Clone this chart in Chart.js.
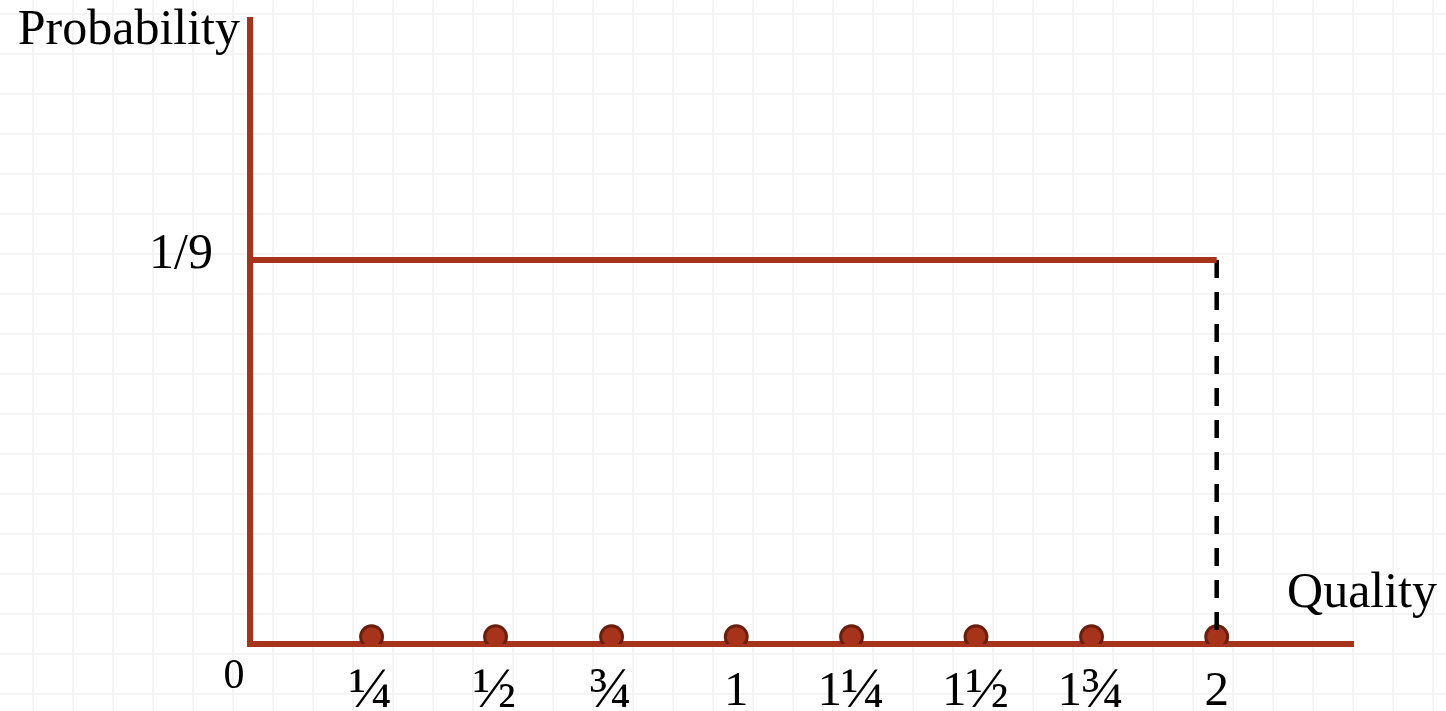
<!DOCTYPE html>
<html>
<head>
<meta charset="utf-8">
<script src="https://cdn.jsdelivr.net/npm/chart.js@4.4.1/dist/chart.umd.min.js"></script>
<style>
    html, body { margin: 0; padding: 0; }
    body {
        width: 1446px; height: 711px; overflow: hidden;
        background-color: #fff;
        background-image:
            linear-gradient(to right, #f4f4f4 2px, transparent 2px),
            linear-gradient(to bottom, #f4f4f4 2px, transparent 2px);
        background-size: 40px 40px;
        background-position: 32px 13px;
    }
    canvas { display: block; }
</style>
</head>
<body>
<canvas id="chart" width="1446" height="711"></canvas>
<script>
// --- Data ---
const qualityLabels = ['¼', '½', '¾', '1', '1¼', '1½', '1¾', '2'];
const qualityX = [0.2515, 0.508, 0.748, 1.006, 1.2445, 1.502, 1.741, 2.0];
const dotY = [0.0021, 0.0021, 0.0021, 0.0021, 0.0021, 0.0021, 0.0021, 0.0021];
const densityX = [0, 2];
const densityY = [1 / 9, 1 / 9];
const dropX = [2, 2];
const dropY = [1 / 9, 0];
const yTickValue = 1 / 9;
const yTickLabel = '1/9';
const xMax = 2.282;
const yMax = 0.1806;

const RED = '#a6331a';
const DOT_EDGE = '#6a1f0d';
const FONT = '"Liberation Serif", "Times New Roman", serif';
const FRACTIONS = '¼½¾';

const toPts = (xs, ys) => xs.map((x, i) => ({ x: x, y: ys[i] }));

// mixed numbers: whole part at normal size, the fraction glyph a bit larger
function drawMixed(ctx, label, cx, baseline) {
    const last = label.slice(-1);
    const hasFrac = FRACTIONS.includes(last);
    const whole = hasFrac ? label.slice(0, -1) : label;
    const frac = hasFrac ? last : '';

    ctx.font = `49px ${FONT}`;
    const wW = ctx.measureText(whole).width;
    ctx.font = `58px ${FONT}`;
    const wF = frac ? ctx.measureText(frac).width : 0;

    let left = cx - (wW + wF) / 2;
    ctx.textAlign = 'left';
    if (whole) {
        ctx.font = `49px ${FONT}`;
        ctx.fillText(whole, left, baseline);
    }
    if (frac) {
        ctx.font = `58px ${FONT}`;
        ctx.fillText(frac, left + wW - 1, baseline + 2);
    }
}

// labels drawn next to the axes, positioned from the scales
const axisText = {
    id: 'axisText',
    afterDraw(chart) {
        const { ctx, scales: { x, y }, chartArea } = chart;
        ctx.save();
        ctx.fillStyle = '#000';
        ctx.textBaseline = 'alphabetic';

        qualityX.forEach((v, i) => {
            drawMixed(ctx, qualityLabels[i], x.getPixelForValue(v), chartArea.bottom + 61);
        });

        ctx.font = `50px ${FONT}`;
        ctx.textAlign = 'right';
        ctx.fillText(yTickLabel, chartArea.left - 37, y.getPixelForValue(yTickValue) + 8);
        ctx.fillText('Probability', chartArea.left - 10, chartArea.top + 24);
        ctx.fillText('Quality', chartArea.right + 84, chartArea.bottom - 37);

        ctx.font = `42px ${FONT}`;
        ctx.textAlign = 'center';
        ctx.fillText('0', chartArea.left - 16, chartArea.bottom + 44);
        ctx.restore();
    }
};

new Chart(document.getElementById('chart'), {
    type: 'scatter',
    data: {
        datasets: [
            {
                data: toPts(densityX, densityY),
                showLine: true,
                borderColor: RED,
                borderWidth: 6,
                pointRadius: 0
            },
            {
                data: toPts(dropX, dropY),
                showLine: true,
                borderColor: '#000',
                borderWidth: 4.5,
                borderDash: [18, 14],
                pointRadius: 0
            },
            {
                data: toPts(qualityX, dotY),
                showLine: false,
                backgroundColor: RED,
                borderColor: DOT_EDGE,
                borderWidth: 3,
                pointRadius: 11
            }
        ]
    },
    options: {
        responsive: false,
        animation: false,
        events: [],
        layout: { padding: { left: 250, right: 93, top: 20, bottom: 67 } },
        plugins: { legend: { display: false }, tooltip: { enabled: false } },
        scales: {
            x: {
                type: 'linear',
                min: 0,
                max: xMax,
                grid: { display: false, drawTicks: false },
                border: { display: true, color: RED, width: 6 },
                ticks: { display: false }
            },
            y: {
                type: 'linear',
                min: 0,
                max: yMax,
                grid: { display: false, drawTicks: false },
                border: { display: true, color: RED, width: 6 },
                ticks: { display: false }
            }
        }
    },
    plugins: [axisText]
});
</script>
</body>
</html>
